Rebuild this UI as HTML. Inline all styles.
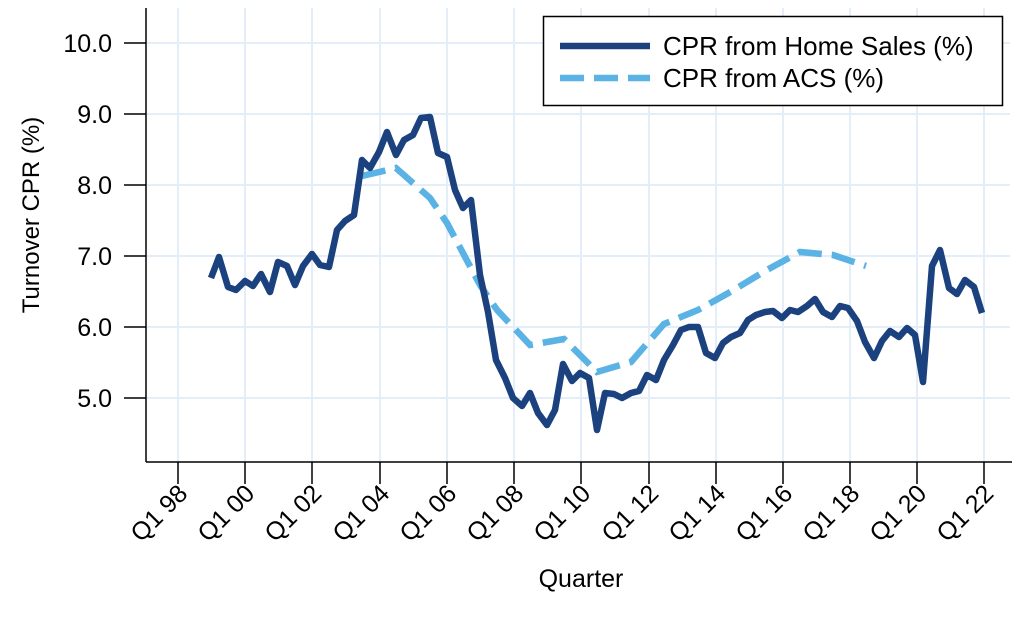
<!DOCTYPE html>
<html><head><meta charset="utf-8"><style>body{margin:0;background:#fff}svg{display:block}text{font-family:"Liberation Sans",Arial,sans-serif;fill:#000}</style></head><body>
<svg width="1024" height="617" xmlns="http://www.w3.org/2000/svg">
<g stroke="#e4eef8" stroke-width="2">
<line x1="147" x2="1010" y1="43" y2="43"/><line x1="147" x2="1010" y1="114" y2="114"/><line x1="147" x2="1010" y1="185" y2="185"/><line x1="147" x2="1010" y1="256" y2="256"/><line x1="147" x2="1010" y1="327" y2="327"/><line x1="147" x2="1010" y1="398" y2="398"/>
<line x1="178" x2="178" y1="8" y2="462"/><line x1="245" x2="245" y1="8" y2="462"/><line x1="312" x2="312" y1="8" y2="462"/><line x1="380" x2="380" y1="8" y2="462"/><line x1="447" x2="447" y1="8" y2="462"/><line x1="514" x2="514" y1="8" y2="462"/><line x1="581" x2="581" y1="8" y2="462"/><line x1="649" x2="649" y1="8" y2="462"/><line x1="716" x2="716" y1="8" y2="462"/><line x1="783" x2="783" y1="8" y2="462"/><line x1="850" x2="850" y1="8" y2="462"/><line x1="917" x2="917" y1="8" y2="462"/><line x1="984" x2="984" y1="8" y2="462"/>
</g>
<g stroke="#000" stroke-width="1.5">
<line x1="146" x2="146" y1="8" y2="462"/><line x1="146" x2="1012" y1="462" y2="462"/>
<line x1="124" x2="146" y1="43" y2="43"/><line x1="124" x2="146" y1="114" y2="114"/><line x1="124" x2="146" y1="185" y2="185"/><line x1="124" x2="146" y1="256" y2="256"/><line x1="124" x2="146" y1="327" y2="327"/><line x1="124" x2="146" y1="398" y2="398"/>
<line x1="178" x2="178" y1="462" y2="484"/><line x1="245" x2="245" y1="462" y2="484"/><line x1="312" x2="312" y1="462" y2="484"/><line x1="380" x2="380" y1="462" y2="484"/><line x1="447" x2="447" y1="462" y2="484"/><line x1="514" x2="514" y1="462" y2="484"/><line x1="581" x2="581" y1="462" y2="484"/><line x1="649" x2="649" y1="462" y2="484"/><line x1="716" x2="716" y1="462" y2="484"/><line x1="783" x2="783" y1="462" y2="484"/><line x1="850" x2="850" y1="462" y2="484"/><line x1="917" x2="917" y1="462" y2="484"/><line x1="984" x2="984" y1="462" y2="484"/>
</g>
<g font-size="25" text-anchor="end">
<text x="112" y="52">10.0</text><text x="112" y="123">9.0</text><text x="112" y="194">8.0</text><text x="112" y="265">7.0</text><text x="112" y="336">6.0</text><text x="112" y="407">5.0</text>
</g>
<g font-size="25" text-anchor="end">
<text transform="translate(189,495) rotate(-45)">Q1 98</text><text transform="translate(256,495) rotate(-45)">Q1 00</text><text transform="translate(323,495) rotate(-45)">Q1 02</text><text transform="translate(391,495) rotate(-45)">Q1 04</text><text transform="translate(458,495) rotate(-45)">Q1 06</text><text transform="translate(525,495) rotate(-45)">Q1 08</text><text transform="translate(592,495) rotate(-45)">Q1 10</text><text transform="translate(660,495) rotate(-45)">Q1 12</text><text transform="translate(727,495) rotate(-45)">Q1 14</text><text transform="translate(794,495) rotate(-45)">Q1 16</text><text transform="translate(861,495) rotate(-45)">Q1 18</text><text transform="translate(928,495) rotate(-45)">Q1 20</text><text transform="translate(995,495) rotate(-45)">Q1 22</text>
</g>
<text x="581" y="587" font-size="25" text-anchor="middle">Quarter</text>
<text transform="translate(39,215) rotate(-90)" font-size="24" text-anchor="middle">Turnover CPR (%)</text>
<polyline fill="none" stroke="#5bb2e4" stroke-width="6.5" stroke-dasharray="24,10" points="362,176 396,168 430,198 447,223 480,285 497,310 530,345 564,339 597,372 631,362 664,324 698,310 732,291 765,271 800,252 833,255 866,266"/>
<polyline fill="none" stroke="#1c417f" stroke-width="6.5" stroke-linejoin="round" points="211,278 219,257 228,287 236,290 245,281 253,286 261,274 270,292 278,262 287,266 295,285 303,266 312,254 320,265 329,267 337,230 345,221 354,215 362,160 370,168 379,152 387,132 396,155 404,140 413,135 421,118 430,117 438,153 447,157 455,190 463,208 471,200 480,275 488,312 496,360 505,378 513,398 522,406 530,393 538,413 547,425 555,410 563,364 572,381 580,373 589,378 597,430 605,393 614,394 622,398 631,393 639,391 647,375 656,380 664,360 673,345 681,330 689,327 698,327 706,353 715,358 723,343 731,337 740,333 748,320 756,315 765,312 773,311 782,318 790,310 798,312 807,306 815,299 823,312 832,317 840,306 848,308 857,321 865,342 874,358 882,341 890,331 899,337 907,328 915,335 923,382 932,266 940,250 949,288 957,294 965,280 974,287 982,313"/>
<rect x="543.5" y="16.5" width="459" height="89" fill="#fff" stroke="#000" stroke-width="1.5"/>
<line x1="560" x2="650" y1="46" y2="46" stroke="#1c417f" stroke-width="6.5"/>
<line x1="560" x2="650" y1="78" y2="78" stroke="#5bb2e4" stroke-width="6.5" stroke-dasharray="24,10"/>
<text x="663" y="55" font-size="26">CPR from Home Sales (%)</text>
<text x="663" y="87" font-size="26">CPR from ACS (%)</text>
</svg>
</body></html>
